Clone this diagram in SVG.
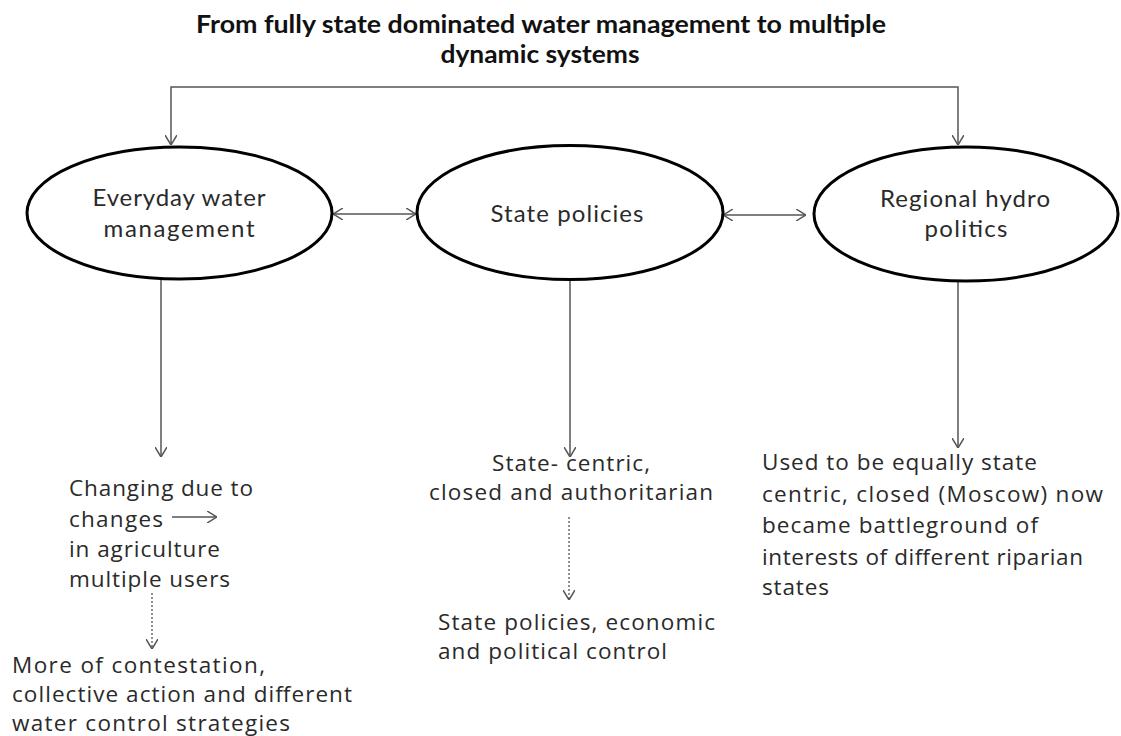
<svg xmlns="http://www.w3.org/2000/svg" width="1121" height="736" viewBox="0 0 1121 736">
  <style>
    .title { font-family: Lato, "Liberation Sans", sans-serif; font-weight: bold; font-size: 24px; fill: #111; }
    .etext { font-family: Lato, "Liberation Sans", sans-serif; font-size: 24px; fill: #2a2a2a; }
    .ltext { font-family: "Open Sans", "Liberation Sans", sans-serif; font-size: 22.5px; fill: #2a2a2a; }
    .ell { fill: #fff; stroke: #000; stroke-width: 3; }
    .conn { fill: none; stroke: #555; stroke-width: 1.5; }
    .dot { fill: none; stroke: #555; stroke-width: 1.3; stroke-dasharray: 2 2; }
  </style>
  <defs>
    <marker id="ah" viewBox="0 0 10 12" refX="10" refY="6" markerWidth="10" markerHeight="12" markerUnits="userSpaceOnUse" orient="auto-start-reverse">
      <path d="M0,0 L10,6 L0,12" fill="none" stroke="#555" stroke-width="1.5"/>
    </marker>
  </defs>

  <g id="title">
    <text class="title" x="541" y="33" text-anchor="middle" textLength="690" lengthAdjust="spacingAndGlyphs">From fully state dominated water management to multiple</text>
    <text class="title" x="540" y="63" text-anchor="middle" textLength="199" lengthAdjust="spacingAndGlyphs">dynamic systems</text>
  </g>

  <g id="connectors">
    <path class="conn" d="M171,145 L171,87 L958,87 L958,145" marker-start="url(#ah)" marker-end="url(#ah)"/>
    <line class="conn" x1="333" y1="214" x2="416" y2="214" marker-start="url(#ah)" marker-end="url(#ah)"/>
    <line class="conn" x1="723" y1="215" x2="806" y2="215" marker-start="url(#ah)" marker-end="url(#ah)"/>
    <line class="conn" x1="161" y1="280" x2="161" y2="457" marker-end="url(#ah)"/>
    <line class="conn" x1="570" y1="280" x2="570" y2="457" marker-end="url(#ah)"/>
    <line class="conn" x1="958" y1="282" x2="958" y2="448" marker-end="url(#ah)"/>
    <line class="conn" x1="172" y1="517" x2="217" y2="517" marker-end="url(#ah)"/>
    <line class="dot" x1="152" y1="593" x2="152" y2="649" marker-end="url(#ah)"/>
    <line class="dot" x1="569" y1="517" x2="569" y2="600" marker-end="url(#ah)"/>
  </g>

  <g id="node-everyday">
    <ellipse class="ell" cx="179.5" cy="213" rx="152.5" ry="66"/>
    <text class="etext" x="179" y="206" text-anchor="middle" textLength="173">Everyday water</text>
    <text class="etext" x="179" y="237" text-anchor="middle" textLength="151">management</text>
  </g>

  <g id="node-state">
    <ellipse class="ell" cx="570" cy="212.5" rx="153" ry="67"/>
    <text class="etext" x="567" y="222" text-anchor="middle" textLength="153">State policies</text>
  </g>

  <g id="node-regional">
    <ellipse class="ell" cx="966" cy="214" rx="152" ry="67"/>
    <text class="etext" x="965" y="207" text-anchor="middle" textLength="170">Regional hydro</text>
    <text class="etext" x="966" y="237" text-anchor="middle" textLength="83">politics</text>
  </g>

  <g id="text-everyday-outcome">
    <text class="ltext" x="69" y="496" textLength="184">Changing due to</text>
    <text class="ltext" x="69" y="527" textLength="94">changes</text>
    <text class="ltext" x="69" y="557" textLength="151">in agriculture</text>
    <text class="ltext" x="69" y="587" textLength="161">multiple users</text>
  </g>

  <g id="text-everyday-result">
    <text class="ltext" x="12" y="673" textLength="253">More of contestation,</text>
    <text class="ltext" x="12" y="702" textLength="340">collective action and different</text>
    <text class="ltext" x="12" y="731" textLength="278">water control strategies</text>
  </g>

  <g id="text-state-outcome">
    <text class="ltext" x="492" y="471" textLength="158">State- centric,</text>
    <text class="ltext" x="429" y="500" textLength="284">closed and authoritarian</text>
  </g>

  <g id="text-state-result">
    <text class="ltext" x="438" y="630" textLength="277">State policies, economic</text>
    <text class="ltext" x="438" y="659" textLength="229">and political control</text>
  </g>

  <g id="text-regional-outcome">
    <text class="ltext" x="762" y="470" textLength="275">Used to be equally state</text>
    <text class="ltext" x="762" y="502" textLength="341">centric, closed (Moscow) now</text>
    <text class="ltext" x="762" y="533" textLength="276">became battleground of</text>
    <text class="ltext" x="762" y="565" textLength="321">interests of different riparian</text>
    <text class="ltext" x="762" y="595" textLength="67">states</text>
  </g>
</svg>
